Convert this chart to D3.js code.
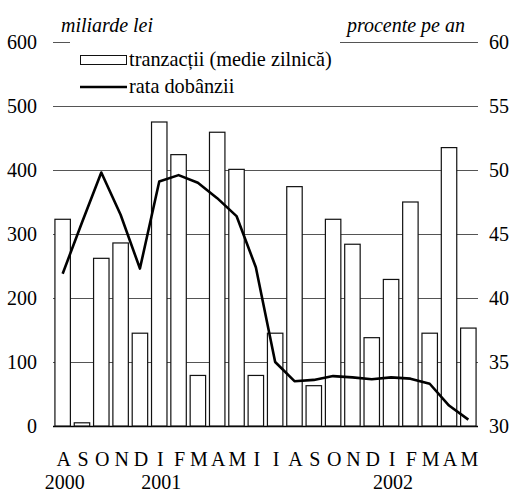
<!DOCTYPE html>
<html>
<head>
<meta charset="utf-8">
<script src="https://cdn.jsdelivr.net/npm/d3@7"></script>
<style>
  body { margin: 0; background: #fff; }
  svg { display: block; }
  svg text { font-family: "Liberation Serif", "DejaVu Serif", serif; }
</style>
</head>
<body>
<svg width="513" height="494"></svg>
<script>
// months Aug 2000 - May 2002 (Romanian initials)
var months = ["A","S","O","N","D","I","F","M","A","M","I","I","A","S","O","N","D","I","F","M","A","M"];
var years = [{label: "2000", i: 0}, {label: "2001", i: 5}, {label: "2002", i: 17}];
// tranzactii (medie zilnica), miliarde lei
var tranzactii = [323, 5, 262, 286, 145, 475, 424, 79, 459, 401, 79, 145, 374, 63, 323, 284, 138, 229, 350, 145, 435, 153];
// rata dobanzii, procente pe an
var rata = [41.9, 45.9, 49.8, 46.5, 42.3, 49.1, 49.6, 49.0, 47.8, 46.4, 42.4, 35.0, 33.5, 33.6, 33.9, 33.8, 33.65, 33.8, 33.7, 33.3, 31.6, 30.5];
var leftTicks = [0, 100, 200, 300, 400, 500, 600];
var rightTicks = [30, 35, 40, 45, 50, 55, 60];

var svg = d3.select("svg");
var plotLeft = 53, plotRight = 478, plotTop = 42, plotBottom = 426;
var fs = 20;

var x = d3.scaleBand()
    .domain(d3.range(months.length))
    .range([plotLeft, plotRight])
    .paddingInner(0.2)
    .paddingOuter(0.1);
var y = d3.scaleLinear().domain([0, 600]).range([plotBottom, plotTop]);
var y2 = d3.scaleLinear().domain([30, 60]).range([plotBottom, plotTop]);

// grid
svg.append("g").selectAll("line")
    .data(leftTicks)
    .enter().append("line")
        .attr("x1", plotLeft).attr("x2", plotRight)
        .attr("y1", function(d) { return Math.round(y(d)) + 0.5; })
        .attr("y2", function(d) { return Math.round(y(d)) + 0.5; })
        .attr("stroke", function(d) { return d === 0 ? "#000" : "#555"; })
        .attr("stroke-width", function(d) { return d === 0 ? 1.5 : 1; });

// tick labels
svg.append("g").selectAll("text")
    .data(leftTicks)
    .enter().append("text")
        .attr("x", 37)
        .attr("y", function(d) { return y(d) + 6.8; })
        .attr("text-anchor", "end")
        .attr("font-size", fs)
        .text(function(d) { return d; });

svg.append("g").selectAll("text")
    .data(rightTicks)
    .enter().append("text")
        .attr("x", 489)
        .attr("y", function(d) { return y2(d) + 6.8; })
        .attr("font-size", fs)
        .text(function(d) { return d; });

// bars
svg.append("g").selectAll("rect")
    .data(tranzactii)
    .enter().append("rect")
        .attr("x", function(d, i) { return x(i); })
        .attr("y", function(d) { return y(d); })
        .attr("width", x.bandwidth())
        .attr("height", function(d) { return plotBottom - y(d); })
        .attr("fill", "#fff")
        .attr("stroke", "#111")
        .attr("stroke-width", 1.2);

// line
var line = d3.line()
    .x(function(d, i) { return x(i) + x.bandwidth() / 2; })
    .y(function(d) { return y2(d); })
    .curve(d3.curveLinear);

svg.append("path")
    .datum(rata)
    .attr("d", line)
    .attr("fill", "none")
    .attr("stroke", "#000")
    .attr("stroke-width", 2.6)
    .attr("stroke-linejoin", "round");

// x labels
svg.append("g").selectAll("text")
    .data(months)
    .enter().append("text")
        .attr("x", function(d, i) { return x(i) + x.bandwidth() / 2 + 1; })
        .attr("y", 466)
        .attr("text-anchor", "middle")
        .attr("font-size", fs)
        .text(function(d) { return d; });

svg.append("g").selectAll("text")
    .data(years)
    .enter().append("text")
        .attr("x", function(d) { return x(d.i) + x.bandwidth() / 2 + 2; })
        .attr("y", 489)
        .attr("text-anchor", "middle")
        .attr("font-size", fs)
        .text(function(d) { return d.label; });

// axis titles
svg.append("text")
    .attr("x", 61).attr("y", 32)
    .attr("font-size", fs)
    .attr("font-style", "italic")
    .text("miliarde lei");
svg.append("text")
    .attr("x", 465).attr("y", 32)
    .attr("text-anchor", "end")
    .attr("font-size", fs)
    .attr("font-style", "italic")
    .text("procente pe an");

// legend
var lg = svg.append("g");
lg.append("rect")
    .attr("x", 70).attr("y", 36).attr("width", 270).attr("height", 64)
    .attr("fill", "#fff");
lg.append("rect")
    .attr("x", 80.5).attr("y", 55.5).attr("width", 46).attr("height", 9)
    .attr("fill", "#fff").attr("stroke", "#111").attr("stroke-width", 1);
lg.append("text")
    .attr("x", 129).attr("y", 66)
    .attr("font-size", 20.3)
    .text("tranzacții (medie zilnică)");
lg.append("line")
    .attr("x1", 80).attr("x2", 127).attr("y1", 87).attr("y2", 87)
    .attr("stroke", "#000").attr("stroke-width", 2.6);
lg.append("text")
    .attr("x", 129).attr("y", 93)
    .attr("font-size", 20.3)
    .text("rata dobânzii");
</script>
</body>
</html>
